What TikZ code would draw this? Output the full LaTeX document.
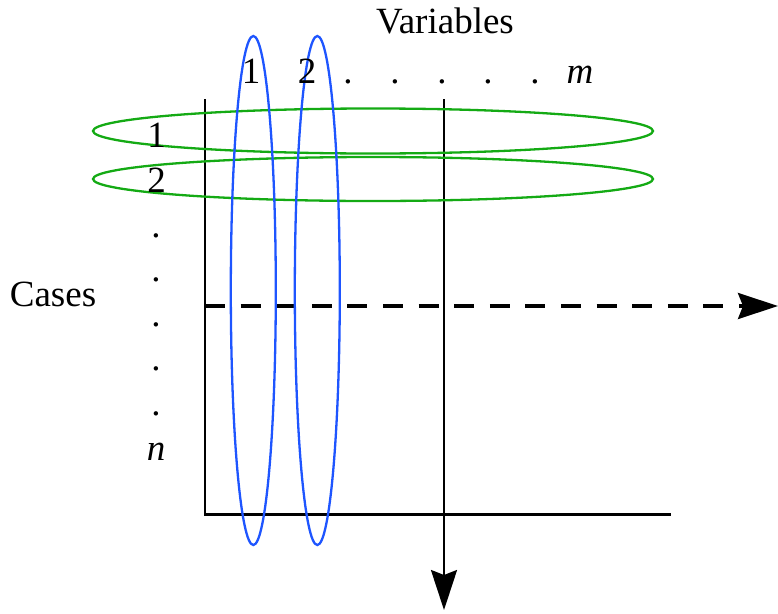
\documentclass[tikz,border=0pt]{standalone}
\usepackage{fontspec}
\setmainfont{Liberation Serif}
\usetikzlibrary{arrows.meta}
\definecolor{ringgreen}{RGB}{20,170,20}
\definecolor{ringblue}{RGB}{30,85,255}
\begin{document}
\begin{tikzpicture}[x=1pt,y=-1pt,
  lbl/.style={anchor=base,inner sep=0pt,font=\fontsize{37}{44}\selectfont},
  axis/.style={line width=2.3pt},
  bigarrow/.style={-{Stealth[length=40pt,width=26pt,inset=5pt]}},
  greenring/.style={draw=ringgreen,line width=2.3pt},
  bluering/.style={draw=ringblue,line width=2.3pt}]
\useasboundingbox (0,0) rectangle (778,613);
% axes
\coordinate (o) at (205,514.5);
\coordinate (ytop) at (205,99);
\coordinate (xend) at (671,514.5);
\draw[axis] (ytop) -- (o) -- (xend);
% vertical arrow
\coordinate (vtop) at (444,99);
\coordinate (vend) at (444,610);
\draw[axis,bigarrow] (vtop) -- (vend);
% dashed arrow
\coordinate (dstart) at (205,306);
\coordinate (dend) at (778,306);
\draw[line width=3.2pt,dash pattern=on 20pt off 15.6pt,bigarrow] (dstart) -- (dend);
% green rings
\draw[greenring] (373,131) ellipse [x radius=280, y radius=22.5];
\draw[greenring] (373,179) ellipse [x radius=280, y radius=22];
% blue rings
\draw[bluering] (253.3,290.5) ellipse [x radius=22.5, y radius=254.5];
\draw[bluering] (317.3,290.5) ellipse [x radius=22.5, y radius=254.5];
% top labels
\node[lbl] (var) at (445,33) {Variables};
\node[lbl] (c1) at (251,83) {1};
\node[lbl] (c2) at (307,83) {2};
\node[lbl] (cd1) at (348,83) {.};
\node[lbl] (cd2) at (395,83) {.};
\node[lbl] (cd3) at (442,83) {.};
\node[lbl] (cd4) at (488,83) {.};
\node[lbl] (cd5) at (535,83) {.};
\node[lbl] (cm) at (580,83) {\itshape m};
% left labels
\node[lbl] (r1) at (156.5,147) {1};
\node[lbl] (r2) at (156.5,192) {2};
\node[lbl] (rd1) at (156,237) {.};
\node[lbl] (rd2) at (156,281) {.};
\node[lbl] (rd3) at (156,326) {.};
\node[lbl] (rd4) at (156,370) {.};
\node[lbl] (rd5) at (156,415) {.};
\node[lbl] (rn) at (156,460) {\itshape n};
\node[lbl] (cases) at (53,306) {Cases};
\end{tikzpicture}
\end{document}
